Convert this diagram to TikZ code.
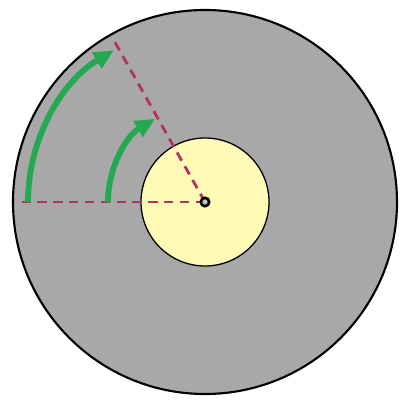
\documentclass[tikz,border=0pt]{standalone}
\usepackage{xcolor}
\usepackage{tikz}
\usetikzlibrary{
  arrows.meta,
  calc
}
\definecolor{discgray}{RGB}{168,168,168}
\definecolor{hubyellow}{RGB}{255,250,182}
\definecolor{radline}{RGB}{176,52,104}
\definecolor{turngreen}{RGB}{36,168,82}

\begin{document}
\begin{tikzpicture}[
    scale=0.03,
    radius line/.style={radline, line width=2.4pt, dash pattern=on 8pt off 5.5pt},
    turn arrow/.style={turngreen, line width=5pt, -{Triangle[length=17pt, width=15pt]}}
]
    \useasboundingbox (-205,-200) rectangle (194,202);

    % 圆盘参数
    \def\Rout{192}
    \def\Rin{64}
    \def\ang{121}

    \coordinate (O) at (0,0);
    \coordinate (rim left) at (180:183);
    \coordinate (rim turned) at (119.4:184);

    % 圆盘与轴
    \draw[line width=1.8pt, fill=discgray] (O) circle (\Rout);
    \draw[line width=1.1pt, fill=hubyellow] (O) circle (\Rin);

    % 半径虚线
    \draw[radius line] (O) -- (rim left);
    \draw[radius line] (O) -- (rim turned);

    % 转动箭头
    \draw[turn arrow] (180:177) arc[start angle=180, end angle=\ang, radius=177];
    \draw[turn arrow] (180:97) arc[start angle=180, end angle=\ang, radius=97];

    % 转轴
    \filldraw[line width=2.2pt, draw=black, fill=gray!50] (O) circle (4.2);
\end{tikzpicture}
\end{document}
